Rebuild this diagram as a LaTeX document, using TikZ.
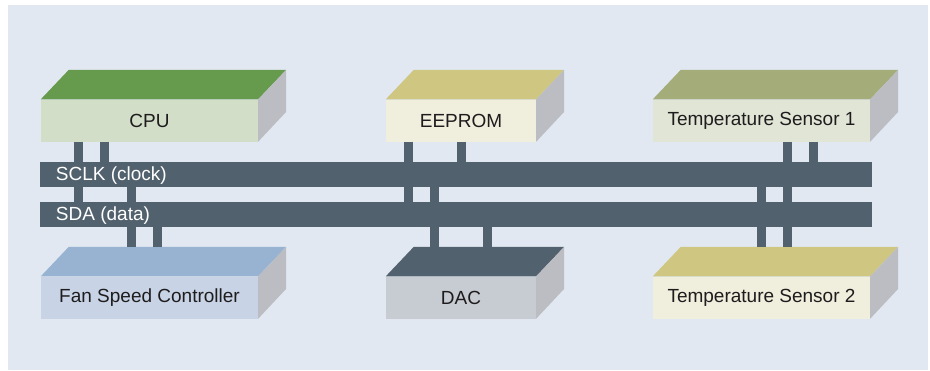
\documentclass[tikz,border=0pt]{standalone}
\usepackage{fontspec}
\setmainfont{Liberation Sans}
\usetikzlibrary{calc}
\definecolor{panel}{HTML}{E1E8F2}
\definecolor{bus}{HTML}{52616E}
\definecolor{side}{HTML}{BBBDC2}
\definecolor{txt}{HTML}{1E1C1D}
\definecolor{cputop}{HTML}{669A4D}
\definecolor{cpufront}{HTML}{D2DEC8}
\definecolor{eetop}{HTML}{CFC682}
\definecolor{eefront}{HTML}{F0EEDC}
\definecolor{tstop}{HTML}{A4AC7A}
\definecolor{tsfront}{HTML}{E1E5D6}
\definecolor{fantop}{HTML}{98B3D2}
\definecolor{fanfront}{HTML}{C8D4E6}
\definecolor{dactop}{HTML}{52616E}
\definecolor{dacfront}{HTML}{C7CBD2}
\tikzset{
  front/.style={inner sep=0pt, minimum height=42pt, text=txt,
    font=\fontsize{19}{21}\selectfont},
  wide/.style={front, minimum width=217pt},
  narrow/.style={front, minimum width=150pt},
  busbar/.style={fill=bus, inner sep=0pt, minimum width=832pt, minimum height=25pt},
  buslabel/.style={text=white, inner sep=0pt, anchor=west,
    font=\fontsize{19}{21}\selectfont},
  stub/.style={draw=bus, line width=9pt},
}
\newcommand{\threedbox}[2]{% name, top colour
  \fill[#2] (#1.north west) -- ++(28,-29.5) -- ($(#1.north east)+(28,-29.5)$) -- (#1.north east) -- cycle;
  \fill[side] (#1.north east) -- ++(28,-29.5) -- ++(0,42) -- (#1.south east) -- cycle;
  \coordinate (#1back) at ($(#1.north)+(0,-29.5)$);
}
\begin{document}
\begin{tikzpicture}[x=1pt,y=-1pt]
\path[use as bounding box, fill=white] (0,0) rectangle (930,370);
\fill[panel] (8,5) rectangle (928,370);
% boxes
\node[wide, fill=cpufront] (cpu) at (149.5,120.5) {CPU};
\threedbox{cpu}{cputop}
\node[narrow, fill=eefront] (ee) at (461,120.5) {EEPROM};
\threedbox{ee}{eetop}
\node[wide, fill=tsfront] (ts1) at (761.5,120.5) {Temperature Sensor 1};
\threedbox{ts1}{tstop}
\node[wide, fill=fanfront] (fan) at (149.5,297.5) {Fan Speed Controller};
\threedbox{fan}{fantop}
\node[narrow, fill=dacfront] (dac) at (461,297.5) {DAC};
\threedbox{dac}{dactop}
\node[wide, fill=eefront] (ts2) at (761.5,297.5) {Temperature Sensor 2};
\threedbox{ts2}{eetop}
% buses
\node[busbar] (sclk) at (456,174.5) {};
\node[busbar] (sda) at (456,214.5) {};
% stubs
\draw[stub] (78,0 |- cpu.south) -- (78,0 |- sda.north);
\draw[stub] (104,0 |- cpu.south) -- (104,0 |- sclk.north);
\draw[stub] (131,0 |- fanback) -- (131,0 |- sclk.south);
\draw[stub] (157,0 |- fanback) -- (157,0 |- sda.south);
\draw[stub] (408.5,0 |- ee.south) -- (408.5,0 |- sda.north);
\draw[stub] (461,0 |- ee.south) -- (461,0 |- sclk.north);
\draw[stub] (434.5,0 |- dacback) -- (434.5,0 |- sclk.south);
\draw[stub] (487,0 |- dacback) -- (487,0 |- sda.south);
\draw[stub] (787.5,0 |- ts1.south) -- (787.5,0 |- sda.north);
\draw[stub] (813.5,0 |- ts1.south) -- (813.5,0 |- sclk.north);
\draw[stub] (761.5,0 |- ts2back) -- (761.5,0 |- sclk.south);
\draw[stub] (787.5,0 |- ts2back) -- (787.5,0 |- sda.south);
% bus labels
\node[buslabel] (sclkl) at ($(sclk.west)+(16,1)$) {SCLK (clock)};
\node[buslabel] (sdal) at ($(sda.west)+(16,1)$) {SDA (data)};
\end{tikzpicture}
\end{document}
